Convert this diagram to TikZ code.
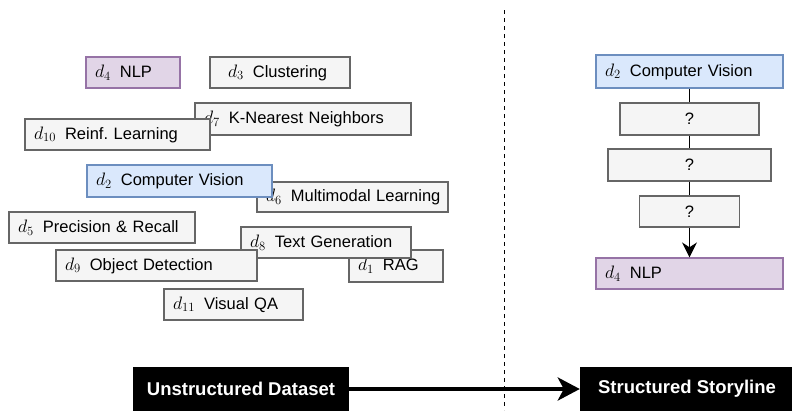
\RequirePackage{fix-cm}
\documentclass[tikz,border=0pt]{standalone}
\usepackage{fontspec}
\setmainfont{Liberation Sans}
\usepackage{xcolor}
\usetikzlibrary{arrows.meta}

\definecolor{grayfill}{HTML}{F5F5F5}
\definecolor{grayline}{HTML}{666666}
\definecolor{cvfill}{HTML}{DAE8FC}
\definecolor{cvline}{HTML}{6C8EBF}
\definecolor{nlpfill}{HTML}{E1D5E7}
\definecolor{nlpline}{HTML}{9673A6}

\newcommand{\dlabel}[2]{\mbox{{\fontsize{18}{19}\selectfont$d_{#1}$}\hspace{0.55em}#2}}

\begin{document}
\begin{tikzpicture}[
      x=1pt, y=-1pt,
      font=\fontsize{16.5}{19}\selectfont,
      box/.style={draw=grayline, fill=grayfill, line width=1.2pt, align=left, inner xsep=9pt, inner ysep=0pt, minimum height=31pt},
      cv/.style={box, draw=cvline, fill=cvfill},
      nlp/.style={box, draw=nlpline, fill=nlpfill},
      qbox/.style={box, align=center, minimum height=32pt},
      stage/.style={fill=black, text=white, font=\fontsize{18.5}{22}\selectfont\bfseries, minimum height=44pt, inner sep=0pt},
      link/.style={line width=1.3pt},
      ar/.style={link, -{Stealth[length=15pt, width=15pt]}},
      bigar/.style={line width=4pt, -{Stealth[length=22pt, width=23pt, inset=6pt]}},
      divider/.style={line width=1pt, dash pattern=on 4pt off 4pt}]
    \useasboundingbox (0,0) rectangle (792,410);
    % unstructured documents
    \node[nlp, text width=76pt]  (l4)  at (133,72.5)  {\dlabel{4}{NLP}};
    \node[box, text width=104pt, inner xsep=18pt] (l3) at (280,72.5) {\dlabel{3}{Clustering}};
    \node[box, text width=198pt, minimum height=32pt] (l7) at (303,119) {\dlabel{7}{K-Nearest Neighbors}};
    \node[box, text width=167pt] (l10) at (117.5,134.5) {\dlabel{10}{Reinf.\ Learning}};
    \node[box, text width=173pt, minimum height=30pt] (l6) at (352.5,197) {\dlabel{6}{Multimodal Learning}};
    \node[cv, text width=167pt, minimum height=32pt] (l2) at (179.5,181) {\dlabel{2}{Computer Vision}};
    \node[box, text width=168pt] (l5)  at (102,227.5) {\dlabel{5}{Precision \& Recall}};
    \node[box, text width=76pt, minimum height=32pt] (l1) at (396,266) {\dlabel{1}{RAG}};
    \node[box, text width=152pt] (l8)  at (326,242.5) {\dlabel{8}{Text Generation}};
    \node[box, text width=183pt] (l9)  at (156.5,265.5) {\dlabel{9}{Object Detection}};
    \node[box, text width=121pt] (l11) at (233.5,304.5) {\dlabel{11}{Visual QA}};
    % storyline
    \node[cv, text width=169pt, minimum height=33pt] (r2) at (689.5,71.5) {\dlabel{2}{Computer Vision}};
    \node[qbox, text width=121pt] (q1) at (689.5,119) {?};
    \node[qbox, text width=145pt] (q2) at (689.5,165) {?};
    \node[qbox, text width=82pt, minimum height=31pt] (q3) at (689.5,211.5) {?};
    \node[nlp, text width=169pt] (r4) at (689.5,273.5) {\dlabel{4}{NLP}};
    \draw[link] (r2) -- (q1);
    \draw[link] (q1) -- (q2);
    \draw[link] (q2) -- (q3);
    \draw[ar] (q3) -- (r4);
    % divider and stages
    \coordinate (divtop) at (504,10);
    \coordinate (divbot) at (504,410);
    \draw[divider] (divtop) -- (divbot);
    \node[stage, minimum width=216pt] (uns) at (241,389) {Unstructured Dataset};
    \node[stage, minimum width=214pt] (str) at (687,389) {Structured Storyline};
    \draw[bigar] (uns) -- (str);
  \end{tikzpicture}
\end{document}
